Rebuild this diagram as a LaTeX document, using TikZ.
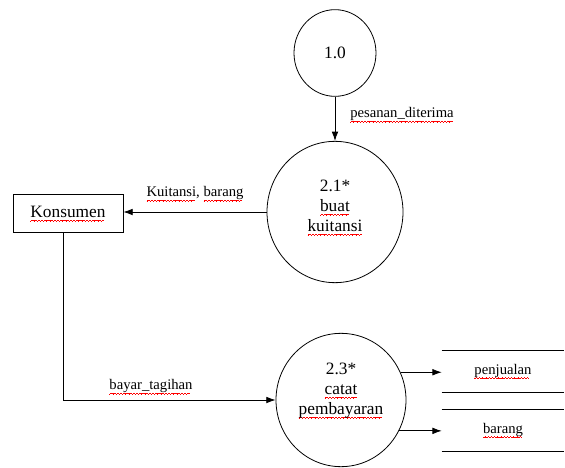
\documentclass[tikz,border=0pt]{standalone}
\usepackage{fontspec}
\setmainfont{Liberation Serif}
\usetikzlibrary{shapes.geometric, arrows.meta}
% red spelling squiggle under a word
\newcommand\wavebit{\rule[-3.2pt]{0.6pt}{0.45pt}\rule[-2.8pt]{0.6pt}{0.45pt}\rule[-2.4pt]{0.6pt}{0.45pt}\rule[-2.8pt]{0.6pt}{0.45pt}}
\newcommand\redwave[1]{\setbox0\hbox{#1}\rlap{\color{red}\hbox to\wd0{\leaders\hbox{\wavebit}\hfill}}#1}

\begin{document}
\begin{tikzpicture}[x=0.75pt, y=-0.75pt,
    proc/.style={ellipse, draw, line width=0.6pt, inner sep=0pt},
    flow/.style={-{Latex[length=7pt, width=5pt]}, line width=0.6pt},
    lbl/.style={font=\fontsize{11}{13}\selectfont},
    ptext/.style={align=center, font=\fontsize{13}{15}\selectfont}]
    \useasboundingbox (0,0) rectangle (565,468);
    % processes
    \node[proc, ptext, minimum width=61.5pt, minimum height=65pt] (p10) at (335,53) {1.0};
    \node[proc, minimum width=102pt, minimum height=106pt,
        label={[ptext, yshift=3.4pt]center:{2.1*\\\redwave{buat}\\\redwave{kuitansi}}}] (p21) at (335,212) {};
    \node[proc, minimum width=97.5pt, minimum height=100pt,
        label={[ptext, yshift=7pt]center:{2.3*\\\redwave{catat}\\\redwave{pembayaran}}}] (p23) at (341,400) {};
    % entity
    \node[draw, line width=0.6pt, ptext, minimum width=82.5pt, minimum height=29pt] (kons) at (68,213.5) {\redwave{Konsumen}};
    % data stores
    \node[lbl, minimum width=91.5pt, minimum height=30.75pt] (penjualan) at (503,371.5) {\redwave{penjualan}};
    \node[lbl, minimum width=91.5pt, minimum height=30.75pt] (barang) at (503,430.5) {\redwave{barang}};
    \draw[line width=0.6pt] (penjualan.north west) -- (penjualan.north east)
        (penjualan.south west) -- (penjualan.south east);
    \draw[line width=0.6pt] (barang.north west) -- (barang.north east)
        (barang.south west) -- (barang.south east);
    % flows
    \draw[flow] (p10) -- (p21);
    \draw[flow] (p21.west) -- (p21.west -| kons.east);
    \draw[flow] ([xshift=-3.75pt]kons.south) |- (p23.west);
    \draw[flow] (p23.25) -- (p23.25 -| penjualan.west);
    \draw[flow] (p23.-28) -- (p23.-28 -| barang.west);
    \node[lbl] (lpesanan) at (402,115) {\redwave{pesanan\_diterima}};
    \node[lbl] (lkuitansi) at (195,194) {\redwave{Kuitansi}, \redwave{barang}};
    \node[lbl] (lbayar) at (151,387) {\redwave{bayar\_tagihan}};
\end{tikzpicture}
\end{document}
